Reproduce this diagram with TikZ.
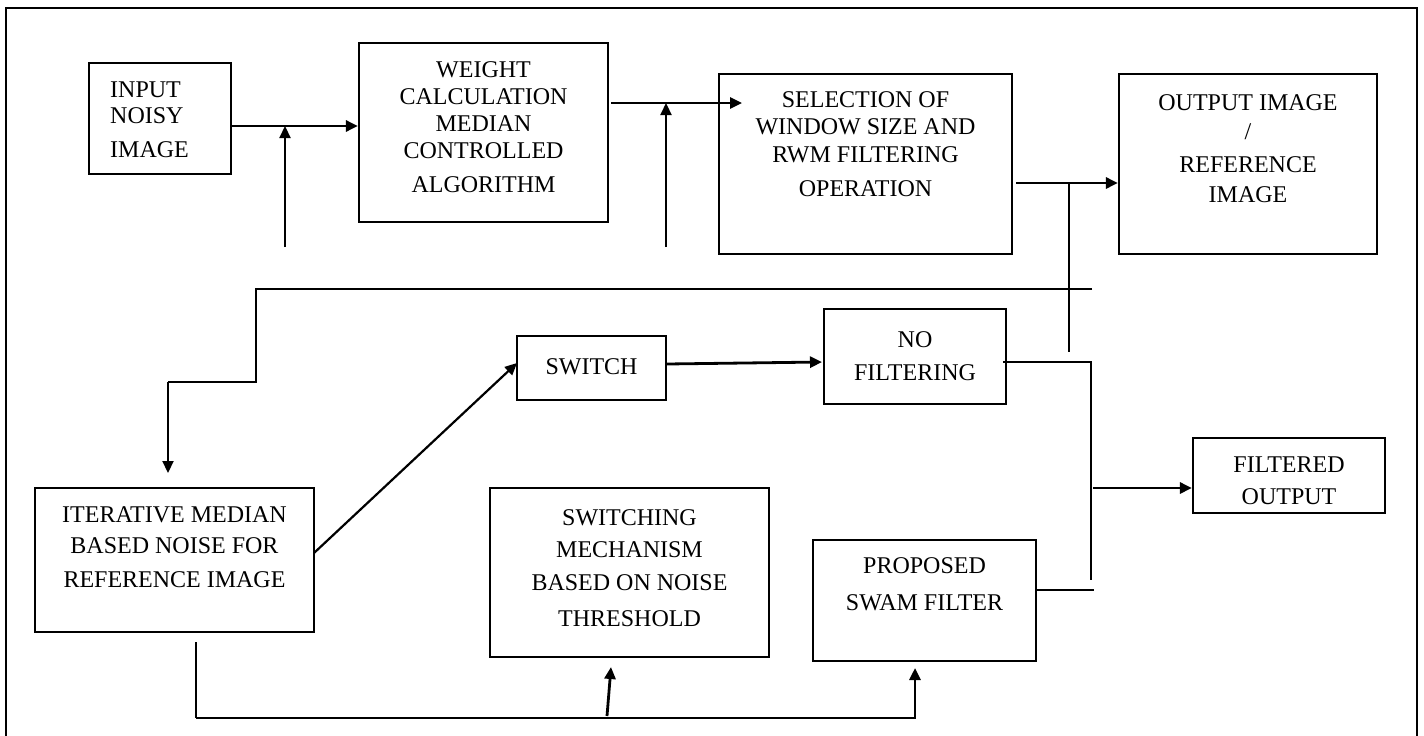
\documentclass[tikz,border=0pt]{standalone}
\usepackage{fontspec}
\setmainfont{Liberation Serif}
\usetikzlibrary{arrows.meta}
\begin{document}
\begin{tikzpicture}[x=1pt,y=-1pt,
  box/.style={draw,line width=2.2pt,inner sep=0pt,minimum width=#1},
  txt/.style={font=\fontsize{24}{#1}\selectfont,align=center,anchor=base,inner sep=0pt},
  thin/.style={line width=2pt},
  thick/.style={line width=2.8pt},
  arr/.style={line width=2.8pt,-{Triangle[length=12pt,width=11pt]}},
  arrt/.style={line width=2.2pt,-{Triangle[length=12pt,width=11pt]}}]
\useasboundingbox (0,0) rectangle (1424,736);
% frame
\draw[line width=2.4pt] (6,736) -- (6,8) -- (1417,8) -- (1417,736);
% boxes
\node[box=142pt,minimum height=111pt] (inp) at (160,118.5) {};
\node[box=249pt,minimum height=179pt] (wgt) at (483.5,132.5) {};
\node[box=293pt,minimum height=180pt] (sel) at (865.5,164) {};
\node[box=258pt,minimum height=180pt] (out) at (1248,164) {};
\node[box=279pt,minimum height=144pt] (itr) at (174.5,560) {};
\node[box=149pt,minimum height=64pt] (swi) at (591.5,368) {};
\node[box=279pt,minimum height=169pt] (swm) at (629.5,572.5) {};
\node[box=182pt,minimum height=95pt] (nof) at (915,356.5) {};
\node[box=223pt,minimum height=121pt] (pro) at (924.5,600.5) {};
\node[box=192pt,minimum height=75pt] (fil) at (1289,475.5) {};
% texts (anchored at the baseline of the last line)
\node[txt=26pt,align=left,anchor=base west] (inpT) at (110,157) {INPUT\\NOISY\\[8pt]IMAGE};
\node[txt=27pt] (wgtT) at (483.5,192) {WEIGHT\\CALCULATION\\MEDIAN\\CONTROLLED\\[7pt]ALGORITHM};
\node[txt=27.5pt] (selT) at (865.5,196) {SELECTION OF\\WINDOW SIZE AND\\RWM FILTERING\\[6.5pt]OPERATION};
\node[txt=30pt] (outT) at (1248,202) {OUTPUT IMAGE\\[-1pt]/\\[3pt]REFERENCE\\IMAGE};
\node[txt=31pt] (itrT) at (174.5,587) {ITERATIVE MEDIAN\\BASED NOISE FOR\\[3pt]REFERENCE IMAGE};
\node[txt=30pt] (swiT) at (591.5,374) {SWITCH};
\node[txt=33pt] (swmT) at (629.5,626) {SWITCHING\\[-1pt]MECHANISM\\BASED ON NOISE\\[3pt]THRESHOLD};
\node[txt=33pt] (nofT) at (915,380) {NO\\FILTERING};
\node[txt=37pt] (proT) at (924.5,610) {PROPOSED\\SWAM FILTER};
\node[txt=32pt] (filT) at (1289,504) {FILTERED\\OUTPUT};
% junction coordinates
\coordinate (j1) at (285,126);
\coordinate (j1b) at (285,247);
\coordinate (j2) at (666,103);
\coordinate (j2b) at (666,247);
\coordinate (selin) at (742,103);
\coordinate (j3) at (1069,183);
\coordinate (j3b) at (1069,352);
\coordinate (fb1) at (1092,289);
\coordinate (fb2) at (256,289);
\coordinate (fb3) at (256,382);
\coordinate (fb4) at (168,382);
\coordinate (fb5) at (168,473);
\coordinate (d1) at (314,553);
\coordinate (d2) at (517,363);
\coordinate (n1) at (1003,362);
\coordinate (n2) at (1091,362);
\coordinate (n3) at (1091,580);
\coordinate (f1) at (1093,488);
\coordinate (p1) at (1094,590);
\coordinate (b1) at (196,642);
\coordinate (b2) at (196,718);
\coordinate (b3) at (916,718);
\coordinate (s1) at (607,716);
\coordinate (s2) at (611,667);
\coordinate (q1) at (915,718);
\coordinate (q2) at (915,668);
% connectors
\draw[arr] (inp.east |- j1) -- (wgt.west |- j1);
\draw[arrt] (j1b) -- (j1);
\draw[arr] (611,103) -- (selin);
\draw[arrt] (j2b) -- (j2);
\draw[arr] (1016,183) -- (out.west |- j3);
\draw[thin] (j3) -- (j3b);
\draw[thin] (fb1) -- (fb2) -- (fb3) -- (fb4);
\draw[arrt] (fb4) -- (fb5);
\draw[arrt] (d1) -- (d2);
\draw[arr] (swi.east |- 0,364) -- (822,362);
\draw[thin] (n1) -- (n2) -- (n3);
\draw[arr] (f1) -- (fil.west |- f1);
\draw[thin] (pro.east |- p1) -- (p1);
\draw[thin] (b1) -- (b2);
\draw[thick] (b2) -- (b3);
\draw[arr] (s1) -- (s2);
\draw[arr] (q1) -- (q2);
\end{tikzpicture}
\end{document}
